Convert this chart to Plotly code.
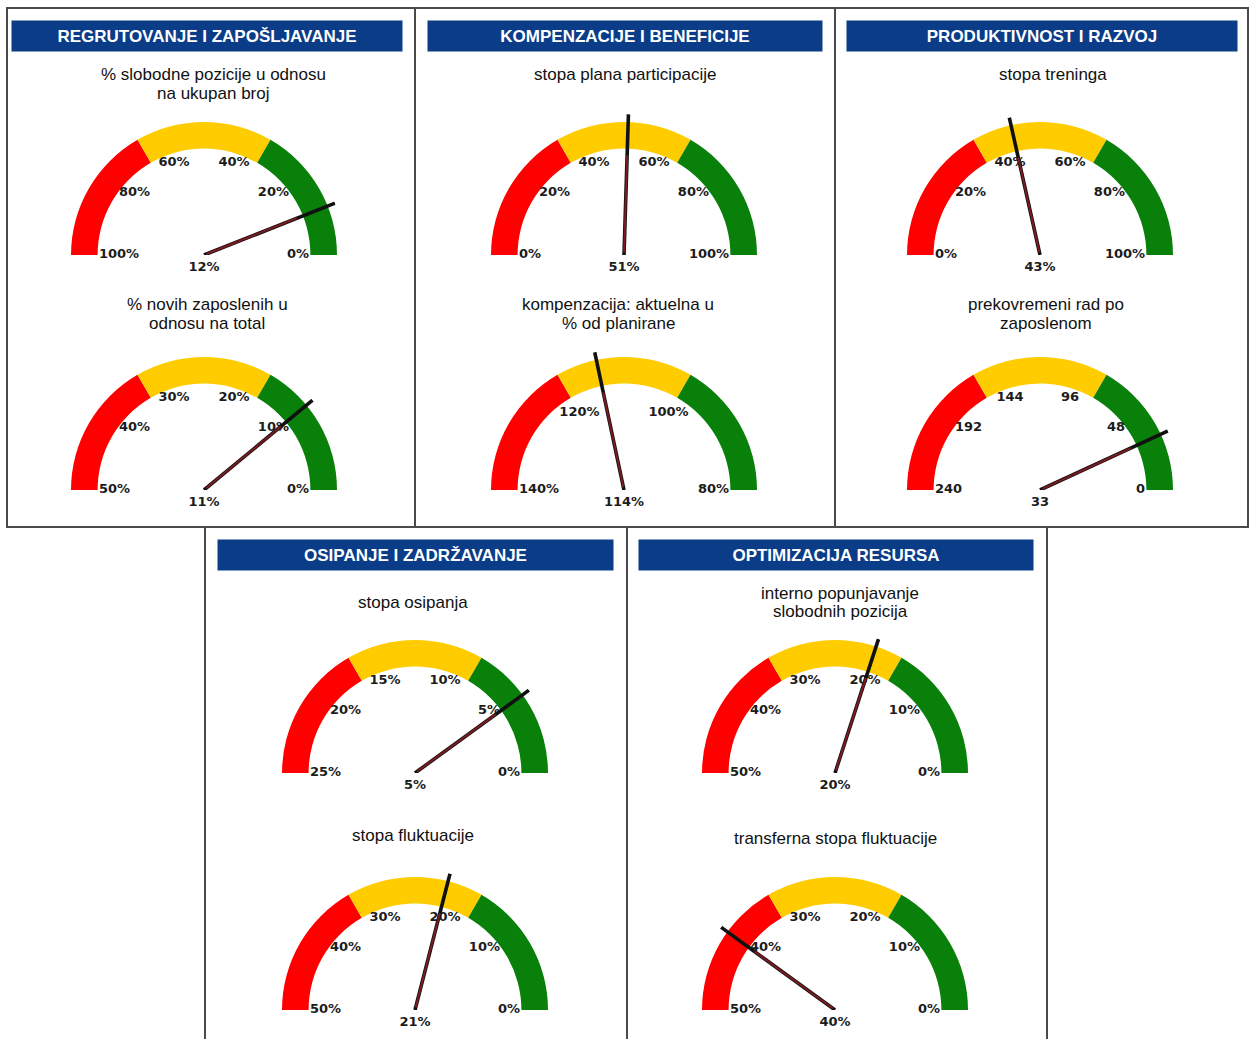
import plotly.graph_objects as go

# ---------------- data ----------------
section_titles = ["REGRUTOVANJE I ZAPOŠLJAVANJE", "KOMPENZACIJE I BENEFICIJE",
                  "PRODUKTIVNOST I RAZVOJ", "OSIPANJE I ZADRŽAVANJE", "OPTIMIZACIJA RESURSA"]
gauge_titles = ["% slobodne pozicije u odnosu<br>na ukupan broj",
                "% novih zaposlenih u<br>odnosu na total",
                "stopa plana participacije",
                "kompenzacija: aktuelna u<br>% od planirane",
                "stopa treninga",
                "prekovremeni rad po<br>zaposlenom",
                "stopa osipanja",
                "stopa fluktuacije",
                "interno popunjavanje<br>slobodnih pozicija",
                "transferna stopa fluktuacije"]
gauge_ticks = [[100, 80, 60, 40, 20, 0],
               [50, 40, 30, 20, 10, 0],
               [0, 20, 40, 60, 80, 100],
               [140, 120, 100, 80],
               [0, 20, 40, 60, 80, 100],
               [240, 192, 144, 96, 48, 0],
               [25, 20, 15, 10, 5, 0],
               [50, 40, 30, 20, 10, 0],
               [50, 40, 30, 20, 10, 0],
               [50, 40, 30, 20, 10, 0]]
gauge_values = [12, 11, 51, 114, 43, 33, 5, 21, 20, 40]
gauge_units = ["%", "%", "%", "%", "%", "", "%", "%", "%", "%"]
band_names = ["loše", "prosečno", "dobro"]

# ---------------- style / layout ----------------
W, H = 1250, 1039
BAND_COLORS = ["#FF0000", "#FFCC00", "#098009"]
HEADER_BG = "#0A3C88"
R_PX = 133          # outer band radius in px
R_MAX = 1.06        # radial range (needle tip)
R_IN = 0.80
centers = [(204, 255), (204, 490), (624, 255), (624, 490), (1040, 255), (1040, 490),
           (415, 773), (415, 1010), (835, 773), (835, 1010)]
title_pos = [(213, 75), (207, 305), (625, 75), (618, 305), (1053, 75), (1046, 305),
             (413, 602), (413, 835), (840, 593), (835, 838)]
LINE_GAP = 18
header_boxes = [(12, 402, 21, 51), (428, 822, 21, 51), (847, 1237, 21, 51),
                (218, 613, 540, 570), (639, 1033, 540, 570)]


def px_x(x):
    return x / W


def px_y(y):
    return 1 - y / H


fig = go.Figure()
layout_polars = {}
TICK_FONT = dict(family="DejaVu Sans", size=13, color="#1c1c1c", weight="bold")

for i in range(len(gauge_values)):
    sub = "polar" if i == 0 else f"polar{i + 1}"
    ticks = gauge_ticks[i]
    lo, hi = ticks[0], ticks[-1]
    unit = gauge_units[i]

    def theta_of(v):
        return (v - lo) / (hi - lo) * 180.0

    # colour bands
    fig.add_trace(go.Barpolar(
        r=[1 - R_IN] * 3, base=[R_IN] * 3, theta=[30, 90, 150], width=[60, 60, 60],
        marker=dict(color=BAND_COLORS, line=dict(width=0)),
        text=band_names, hoverinfo="text", showlegend=False, subplot=sub))

    # tick labels
    n = len(ticks)
    th = [k / (n - 1) * 180.0 for k in range(n)]
    pos, rr = [], []
    for t in th:
        if t < 50:
            pos.append("middle right"); rr.append(R_IN - 0.01)
        elif t > 130:
            pos.append("middle left"); rr.append(R_IN - 0.01)
        elif 65 <= t <= 115:
            pos.append("middle center"); rr.append(R_IN - 0.07)
        else:
            pos.append("middle center"); rr.append(R_IN - 0.13)
    fig.add_trace(go.Scatterpolar(
        r=rr, theta=th, mode="text", text=[f"{v}{unit}" for v in ticks],
        textposition=pos, textfont=TICK_FONT, cliponaxis=False,
        hoverinfo="skip", showlegend=False, subplot=sub))

    # needle
    tv = theta_of(gauge_values[i])
    fig.add_trace(go.Scatterpolar(
        r=[0, R_MAX], theta=[tv, tv], mode="lines",
        line=dict(color="#111111", width=3.6), cliponaxis=False,
        hoverinfo="skip", showlegend=False, subplot=sub))
    fig.add_trace(go.Scatterpolar(
        r=[0.02, R_IN - 0.05], theta=[tv, tv], mode="lines",
        line=dict(color="#7a1c22", width=2.0), cliponaxis=False,
        hoverinfo="skip", showlegend=False, subplot=sub))

    # value label (below the hub)
    fig.add_trace(go.Scatterpolar(
        r=[0], theta=[90], mode="markers+text", text=[f"{gauge_values[i]}{unit}"],
        marker=dict(size=8, color="rgba(0,0,0,0)"),
        textposition="bottom center", textfont=TICK_FONT, cliponaxis=False,
        hoverinfo="skip", showlegend=False, subplot=sub))

    cx, cy = centers[i]
    rd = R_PX * R_MAX
    layout_polars[sub] = dict(
        domain=dict(x=[px_x(cx - rd), px_x(cx + rd)], y=[px_y(cy), px_y(cy - rd)]),
        sector=[0, 180], bgcolor="rgba(0,0,0,0)",
        radialaxis=dict(visible=False, range=[0, R_MAX]),
        angularaxis=dict(visible=False, rotation=180, direction="clockwise"),
    )

annotations = []
for i, t in enumerate(gauge_titles):
    x, y = title_pos[i]
    for j, line in enumerate(t.split("<br>")):
        annotations.append(dict(
            x=px_x(x), y=px_y(y + j * LINE_GAP), xref="paper", yref="paper", text=line,
            showarrow=False, xanchor="center", yanchor="middle",
            font=dict(family="Liberation Sans, Arial", size=17, color="#111111")))

for i, s in enumerate(section_titles):
    x0, x1, y0, y1 = header_boxes[i]
    annotations.append(dict(
        x=px_x((x0 + x1) / 2), y=px_y((y0 + y1) / 2), xref="paper", yref="paper",
        text=f"<b>{s}</b>", showarrow=False, xanchor="center", yanchor="middle",
        width=x1 - x0, height=y1 - y0, bgcolor=HEADER_BG, borderpad=0,
        font=dict(family="Liberation Sans, Arial", size=17, color="white")))

BORDER = dict(color="#4a4a4a", width=2)
shapes = [
    dict(type="rect", xref="paper", yref="paper", x0=px_x(7), x1=px_x(1248),
         y0=px_y(527), y1=px_y(8), line=BORDER),
    dict(type="line", xref="paper", yref="paper", x0=px_x(415), x1=px_x(415),
         y0=px_y(527), y1=px_y(8), line=BORDER),
    dict(type="line", xref="paper", yref="paper", x0=px_x(835), x1=px_x(835),
         y0=px_y(527), y1=px_y(8), line=BORDER),
    dict(type="rect", xref="paper", yref="paper", x0=px_x(205), x1=px_x(1047),
         y0=px_y(1045), y1=px_y(527), line=BORDER),
    dict(type="line", xref="paper", yref="paper", x0=px_x(627), x1=px_x(627),
         y0=px_y(1045), y1=px_y(527), line=BORDER),
]

fig.update_layout(
    width=W, height=H, margin=dict(l=0, r=0, t=0, b=0),
    paper_bgcolor="white", plot_bgcolor="white",
    annotations=annotations, shapes=shapes, showlegend=False,
    **layout_polars,
)

fig.write_html("out.html")
